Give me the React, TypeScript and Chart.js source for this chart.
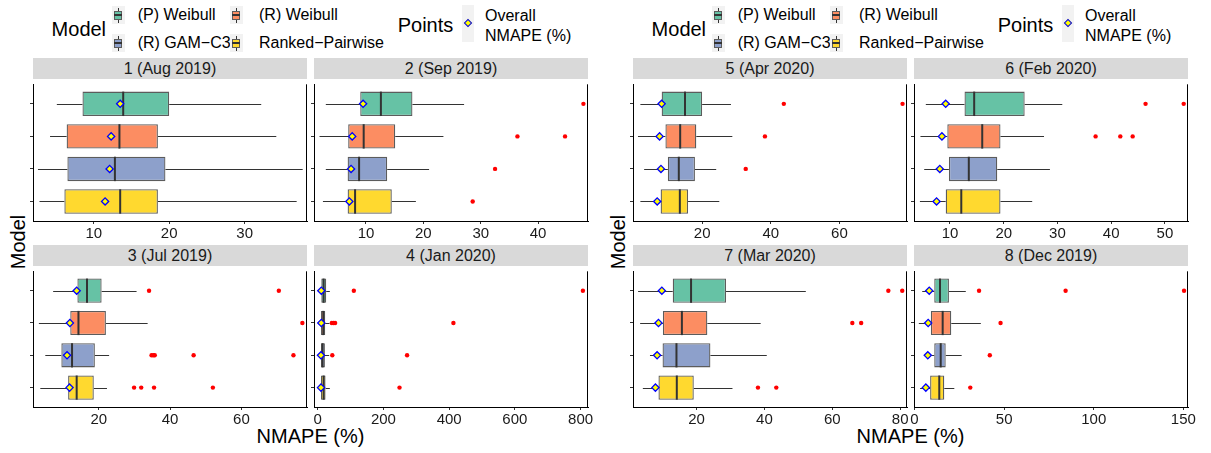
import React, { useEffect, useRef } from 'react';
import { Chart, registerables } from 'chart.js';

Chart.register(...registerables);

// ---------------- data ----------------
const models = ['(P) Weibull', '(R) Weibull', '(R) GAM−C3', 'Ranked−Pairwise'];
const modelColors = ['#66C2A5', '#FC8D62', '#8DA0CB', '#FFD92F'];
const panelTitles = [
  '1 (Aug 2019)', '2 (Sep 2019)', '3 (Jul 2019)', '4 (Jan 2020)',
  '5 (Apr 2020)', '6 (Feb 2020)', '7 (Mar 2020)', '8 (Dec 2019)',
];
const xTicks = [
  [10, 20, 30], [10, 20, 30, 40], [20, 40, 60], [0, 200, 400, 600, 800],
  [20, 40, 60], [10, 20, 30, 40, 50], [20, 40, 60, 80], [0, 50, 100, 150],
];
const xMin = [1.94, 0.94, 1.55, -11.2, -0.15, 3.3, 1.3, -0.3];
const xMax = [38.27, 48.7, 78.4, 822.5, 79.7, 54.3, 82, 152.6];

// per panel, per model (top to bottom: P Weibull, R Weibull, R GAM-C3, Ranked-Pairwise)
const whiskerLow = [
  [5.1, 4.2, 2.6, 2.8], [3.0, 1.9, 3.0, 2.5], [7.2, 3.2, 5.0, 3.6], [4, 4, 4, 4],
  [2.0, 1.3, 3.1, 2.0], [5.5, 4.5, 5.2, 4.4], [2.8, 3.4, 6.3, 4.2], [4.3, 2.4, 5.4, 3.1],
];
const boxQ1 = [
  [8.5, 6.4, 6.5, 6.1], [9.0, 6.9, 6.8, 6.8], [14.0, 12.0, 9.5, 11.4], [11, 10, 10, 10],
  [8.2, 9.3, 10.0, 7.9], [12.7, 9.5, 9.8, 9.2], [13.0, 10.1, 10.0, 8.8], [11.0, 9.1, 11.0, 8.7],
];
const boxMedian = [
  [13.9, 13.4, 12.8, 13.5], [12.6, 9.6, 8.8, 8.1], [16.7, 14.3, 12.5, 13.8], [18, 17, 15, 18],
  [15.0, 13.6, 13.2, 13.5], [14.5, 16.0, 13.5, 12.1], [18.4, 15.7, 14.1, 14.2], [14.2, 15.7, 14.6, 13.8],
];
const boxQ3 = [
  [20.0, 18.5, 19.5, 18.5], [18.1, 15.1, 13.7, 14.5], [20.8, 22.0, 18.9, 18.6], [26, 23, 22, 24],
  [20.0, 18.3, 17.9, 15.9], [23.9, 19.4, 18.8, 19.4], [28.7, 23.2, 24.1, 19.2], [19.2, 20.5, 17.4, 16.6],
];
const whiskerHigh = [
  [32.2, 34.2, 37.7, 36.9], [27.1, 23.5, 21.0, 18.7], [30.6, 33.7, 22.9, 22.3], [37, 36, 35, 37],
  [28.4, 28.8, 24.1, 25.0], [30.9, 27.5, 28.6, 25.3], [52.2, 38.9, 40.7, 30.6], [28.6, 37.0, 26.3, 22.2],
];
const overallNMAPE = [
  [13.5, 12.3, 12.1, 11.5], [9.5, 7.6, 7.4, 7.1], [13.8, 11.9, 11.1, 11.8], [11, 11, 10, 10],
  [8.2, 7.6, 8.0, 6.9], [9.2, 8.5, 8.1, 7.5], [9.8, 8.8, 8.4, 7.9], [8.2, 7.6, 7.4, 6.3],
];
const outlierValues = [
  [[], [], [], []],
  [[47.9], [36.4, 44.7], [32.5], [28.6]],
  [[34.1, 70.5], [77.1], [34.8, 35.3, 35.7, 46.6, 74.6], [29.9, 31.9, 35.5, 52.0]],
  [[110, 807], [43, 48, 53, 413], [44.5, 272], [249]],
  [[43.8, 78.4], [38.3], [32.7], []],
  [[46.4, 53.5], [37.1, 41.7, 44.0], [], []],
  [[76.5, 80.6], [65.9, 68.5], [], [38.1, 43.5]],
  [[36.0, 84.3, 150.4], [48.0], [42.0], [31.1]],
];

// ---------------- layout ----------------
const FONT = '"Liberation Sans", Arial, Helvetica, sans-serif';
const COLS = [[33, 307], [314, 588]];
const ROWS = [[79, 221], [266, 407]];
const GROUP_DX = 600;
const STRIP_H = 21;
const PAD_L = 16, Y_W = 4, PAD_R = 16, X_H = 30;
const LEG_DY = -2;

function Panel({ idx }: { idx: number }) {
  const ref = useRef<HTMLCanvasElement>(null);
  const g = idx < 4 ? 0 : 1;
  const c = idx % 2;
  const r = Math.floor((idx % 4) / 2);
  const L = COLS[c][0] + g * GROUP_DX;
  const R = COLS[c][1] + g * GROUP_DX;
  const T = ROWS[r][0];
  const B = ROWS[r][1];
  const w = R - L + PAD_L + Y_W + PAD_R;
  const h = B - T + X_H;

  useEffect(() => {
    if (!ref.current) return;
    const extras = {
      id: 'boxExtras',
      beforeDatasetsDraw(chart: any) {
        const { ctx } = chart;
        const x = chart.scales.x;
        const meta = chart.getDatasetMeta(2);
        ctx.save();
        ctx.strokeStyle = '#333333';
        ctx.lineWidth = 1;
        meta.data.forEach((el: any, m: number) => {
          const y = Math.round(el.y) + 0.5;
          ctx.beginPath();
          ctx.moveTo(x.getPixelForValue(whiskerLow[idx][m]), y);
          ctx.lineTo(x.getPixelForValue(boxQ1[idx][m]), y);
          ctx.moveTo(x.getPixelForValue(boxQ3[idx][m]), y);
          ctx.lineTo(x.getPixelForValue(whiskerHigh[idx][m]), y);
          ctx.stroke();
        });
        ctx.restore();
      },
      afterDatasetDraw(chart: any, args: any) {
        if (args.index !== 2) return;
        const { ctx } = chart;
        const x = chart.scales.x;
        ctx.save();
        ctx.strokeStyle = '#333333';
        ctx.lineWidth = 2;
        args.meta.data.forEach((el: any, m: number) => {
          const px = x.getPixelForValue(boxMedian[idx][m]);
          ctx.beginPath();
          ctx.moveTo(px, el.y - el.height / 2);
          ctx.lineTo(px, el.y + el.height / 2);
          ctx.stroke();
        });
        ctx.restore();
      },
      afterDraw(chart: any) {
        const { ctx, chartArea } = chart;
        ctx.save();
        ctx.strokeStyle = '#000';
        ctx.lineWidth = 1;
        ctx.beginPath();
        ctx.moveTo(chartArea.right - 0.5, chartArea.top);
        ctx.lineTo(chartArea.right - 0.5, chartArea.bottom);
        ctx.stroke();
        ctx.restore();
      },
    };

    const axisCommon = {
      grid: { display: true, drawOnChartArea: false, drawTicks: true, tickLength: 3, tickColor: '#333333', offset: false },
      border: { display: true, color: '#000000', width: 1 },
    };

    const chart = new Chart(ref.current, {
      type: 'bar',
      data: {
        datasets: [
          {
            type: 'scatter',
            data: overallNMAPE[idx].map((v, m) => ({ x: v, y: m })),
            pointStyle: 'rectRot',
            radius: 3.6,
            backgroundColor: '#FFFF00',
            borderColor: '#0000FF',
            borderWidth: 1.3,
          } as any,
          {
            type: 'scatter',
            data: outlierValues[idx].flatMap((arr, m) => arr.map((v) => ({ x: v, y: m }))),
            pointStyle: 'circle',
            radius: 2.2,
            backgroundColor: '#FF0000',
            borderColor: '#FF0000',
            borderWidth: 0,
          } as any,
          {
            type: 'bar',
            data: boxQ1[idx].map((v, m) => ({ x: [v, boxQ3[idx][m]], y: m })),
            backgroundColor: modelColors,
            borderColor: '#5c5c5c',
            borderWidth: 1.3,
            borderSkipped: false,
            barPercentage: 0.75,
            categoryPercentage: 1,
          } as any,
        ],
      },
      options: {
        responsive: false,
        animation: false,
        indexAxis: 'y',
        layout: { padding: { left: PAD_L, right: PAD_R, top: 0, bottom: 0 } },
        plugins: { legend: { display: false }, tooltip: { enabled: false } },
        scales: {
          x: {
            type: 'linear',
            min: xMin[idx],
            max: xMax[idx],
            beginAtZero: false,
            offset: false,
            afterBuildTicks: (ax: any) => { ax.ticks = xTicks[idx].map((v) => ({ value: v })); },
            afterFit: (ax: any) => { ax.height = X_H; },
            ticks: {
              font: { family: FONT, size: 15 },
              color: '#1a1a1a',
              padding: 1,
              maxRotation: 0,
              autoSkip: false,
              callback: (v: any) => String(v),
            },
            ...axisCommon,
          },
          y: {
            type: 'linear',
            min: -0.6,
            max: 3.6,
            reverse: true,
            offset: false,
            afterBuildTicks: (ax: any) => { ax.ticks = models.map((_, m) => ({ value: m })); },
            afterFit: (ax: any) => { ax.width = Y_W; },
            ticks: { display: false },
            ...axisCommon,
          },
        },
      } as any,
      plugins: [extras as any],
    });
    return () => chart.destroy();
  }, [idx]);

  return (
    <>
      <div
        style={{
          position: 'absolute', left: L, top: T - STRIP_H, width: R - L, height: STRIP_H,
          background: '#D9D9D9', color: '#1A1A1A', fontSize: 16, lineHeight: STRIP_H + 'px',
          textAlign: 'center', fontFamily: FONT, whiteSpace: 'nowrap',
        }}
      >
        {panelTitles[idx]}
      </div>
      <canvas
        ref={ref}
        width={w}
        height={h}
        style={{ position: 'absolute', left: L - PAD_L - Y_W, top: T, width: w, height: h }}
      />
    </>
  );
}

function Txt({ x, y, size, children, color = '#000' }: any) {
  return (
    <div
      style={{
        position: 'absolute', left: x, top: y - size * 0.6, fontSize: size, lineHeight: size * 1.2 + 'px',
        whiteSpace: 'nowrap', color, fontFamily: FONT,
      }}
    >
      {children}
    </div>
  );
}

function ModelKey({ cx, cy, color }: any) {
  return (
    <div style={{ position: 'absolute', left: cx - 6.5, top: cy - 9, width: 13, height: 18, background: '#F2F2F2' }}>
      <div style={{ position: 'absolute', left: 6, top: 1.5, width: 1, height: 15, background: '#333' }} />
      <div style={{ position: 'absolute', left: 2.5, top: 4.5, width: 8, height: 9, background: color, border: '1px solid #5c5c5c', boxSizing: 'border-box' }} />
      <div style={{ position: 'absolute', left: 2.5, top: 8.2, width: 8, height: 1.6, background: '#333' }} />
    </div>
  );
}

function Legend({ dx }: { dx: number }) {
  const colX = [118, 236];
  const labX = [137.7, 259];
  const rowY = [17 + LEG_DY, 45 + LEG_DY];
  return (
    <>
      <Txt x={51.6 + dx} y={30.6 + LEG_DY} size={20}>Model</Txt>
      {models.map((m, i) => {
        const cc = i % 2;
        const rr = Math.floor(i / 2);
        return (
          <React.Fragment key={m}>
            <ModelKey cx={colX[cc] + dx} cy={rowY[rr]} color={modelColors[i]} />
            <Txt x={labX[cc] + dx} y={rowY[rr]} size={16}>{m}</Txt>
          </React.Fragment>
        );
      })}
      <Txt x={397.7 + dx} y={26.8 + LEG_DY} size={20}>Points</Txt>
      <div style={{ position: 'absolute', left: 461.6 + dx, top: 6.9 + LEG_DY, width: 12.6, height: 37, background: '#F2F2F2' }}>
        <div
          style={{
            position: 'absolute', left: 3.3, top: 15.5, width: 6, height: 6, background: '#FFFF00',
            border: '1.2px solid #0000FF', boxSizing: 'border-box', transform: 'rotate(45deg)',
          }}
        />
      </div>
      <Txt x={485 + dx} y={17.2 + LEG_DY} size={16}>Overall</Txt>
      <Txt x={485 + dx} y={37.1 + LEG_DY} size={16}>NMAPE (%)</Txt>
    </>
  );
}

function AxisTitles({ dx }: { dx: number }) {
  return (
    <>
      <div
        style={{
          position: 'absolute', left: 310.5 + dx, top: 436, transform: 'translate(-50%, -50%)',
          fontSize: 20, fontFamily: FONT, whiteSpace: 'nowrap', color: '#000', lineHeight: '24px',
        }}
      >
        NMAPE (%)
      </div>
      <div
        style={{
          position: 'absolute', left: 17.5 + dx, top: 242, transform: 'translate(-50%, -50%) rotate(-90deg)',
          fontSize: 20, fontFamily: FONT, whiteSpace: 'nowrap', color: '#000', lineHeight: '24px',
        }}
      >
        Model
      </div>
    </>
  );
}

export default function App() {
  return (
    <div
      style={{
        position: 'absolute', left: 0, top: 0, width: 1211, height: 453, background: '#fff',
        overflow: 'hidden', fontFamily: FONT,
      }}
    >
      {[0, 1].map((g) => (
        <React.Fragment key={g}>
          <Legend dx={g * GROUP_DX} />
          <AxisTitles dx={g * GROUP_DX} />
        </React.Fragment>
      ))}
      {panelTitles.map((t, i) => (
        <Panel key={t} idx={i} />
      ))}
    </div>
  );
}
